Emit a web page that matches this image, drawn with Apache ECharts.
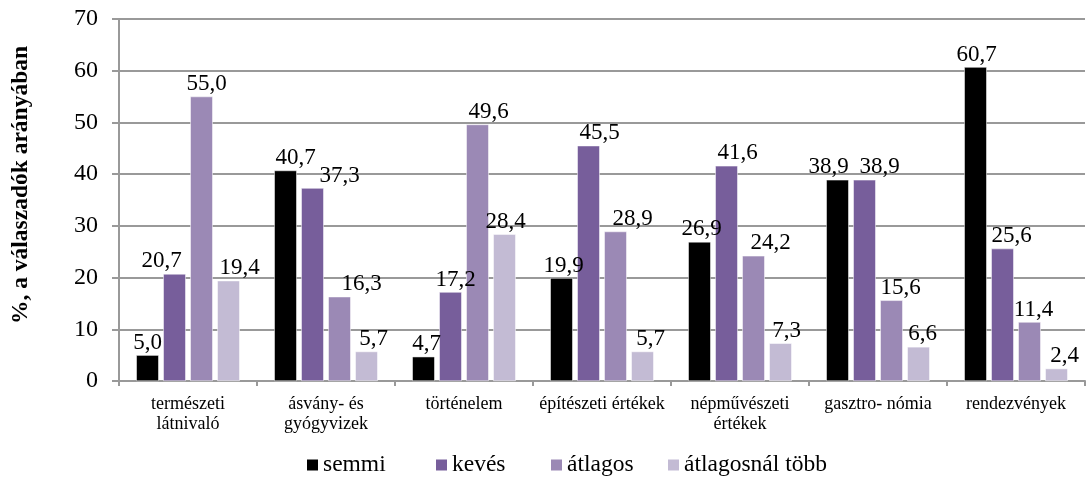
<!DOCTYPE html>
<html>
<head>
<meta charset="utf-8">
<script src="https://cdn.jsdelivr.net/npm/echarts@6/dist/echarts.min.js"></script>
<style>
  html, body { margin: 0; padding: 0; background: #ffffff; }
  #chart { width: 1091px; height: 477px; }
</style>
</head>
<body>
<div id="chart"></div>
<script>
// Attraction types (axis labels wrap where the line breaks are placed)
const categories = [
  'természeti\nlátnivaló',
  'ásvány- és\ngyógyvizek',
  'történelem',
  'építészeti értékek',
  'népművészeti\nértékek',
  'gasztro- nómia',
  'rendezvények'
];

// Share of respondents (%) per answer level
const semmi = [5.0, 40.7, 4.7, 19.9, 26.9, 38.9, 60.7];
const keves = [20.7, 37.3, 17.2, 45.5, 41.6, 38.9, 25.6];
const atlagos = [55.0, 16.3, 49.6, 28.9, 24.2, 15.6, 11.4];
const atlagosnalTobb = [19.4, 5.7, 28.4, 5.7, 7.3, 6.6, 2.4];

const seriesNames = ['semmi', 'kevés', 'átlagos', 'átlagosnál több'];
const seriesData = [semmi, keves, atlagos, atlagosnalTobb];
const colors = ['#000000', '#775e9b', '#9b89b5', '#c3bbd4'];

const yTitle = '%, a válaszadók arányában';

const FONT = '"Liberation Serif", "Times New Roman", serif';
const LINE = '#999999';

// Legend entries sit at fixed horizontal slots under the plot
const legendLeft = [305, 434, 549, 666];

// Horizontal nudges (px) of the value labels, so neighbouring labels do not collide
const labelShift = [
  [0, 10, 3, 2, 2, -9, 1],
  [-13, 27, 5, 11, 11, 15, 9],
  [5, 22, 11, 17, 17, 9, 4],
  [11, 7, 1, 8, 6, 4, 8]
];

const chart = echarts.init(document.getElementById('chart'));

chart.setOption({
  animation: false,
  textStyle: { fontFamily: FONT, color: '#000' },
  grid: { left: 119, right: 6, top: 19, bottom: 96 },
  legend: seriesNames.map((name, i) => ({
    data: [name],
    left: legendLeft[i],
    top: 453,
    itemWidth: 13,
    itemHeight: 13,
    icon: 'rect',
    padding: 0,
    selectedMode: false,
    textStyle: { fontFamily: FONT, fontSize: 23.5, color: '#000', padding: [0, 0, 0, -1] }
  })),
  graphic: [{
    type: 'text',
    x: 21,
    y: 185,
    rotation: Math.PI / 2,
    style: {
      text: yTitle,
      fontFamily: FONT,
      fontSize: 23.5,
      fontWeight: 'bold',
      fill: '#000',
      align: 'center',
      verticalAlign: 'middle'
    }
  }],
  xAxis: {
    type: 'category',
    data: categories,
    axisLine: { lineStyle: { color: LINE, width: 2 } },
    axisTick: { show: true, length: 5, lineStyle: { color: LINE, width: 2 } },
    axisLabel: {
      fontFamily: FONT, fontSize: 18, color: '#000',
      margin: 13, lineHeight: 20, interval: 0
    }
  },
  yAxis: {
    type: 'value',
    min: 0,
    max: 70,
    interval: 10,
    axisLine: { show: true, lineStyle: { color: LINE, width: 2 } },
    axisTick: { show: true, length: 7, lineStyle: { color: LINE, width: 2 } },
    axisLabel: { fontFamily: FONT, fontSize: 24, color: '#000', margin: 21 },
    splitLine: { lineStyle: { color: LINE, width: 2 } }
  },
  series: seriesData.map((values, i) => ({
    name: seriesNames[i],
    type: 'bar',
    data: values.map((v, j) => ({
      value: v,
      label: { offset: [labelShift[i][j], 0] }
    })),
    barWidth: 22.5,
    barGap: '20%',
    itemStyle: { color: colors[i], borderColor: '#ffffff', borderWidth: 0.5 },
    label: {
      show: true,
      position: 'top',
      distance: 1,
      fontFamily: FONT,
      fontSize: 23,
      color: '#000',
      formatter: p => p.value.toFixed(1).replace('.', ',')
    }
  }))
});
</script>
</body>
</html>
